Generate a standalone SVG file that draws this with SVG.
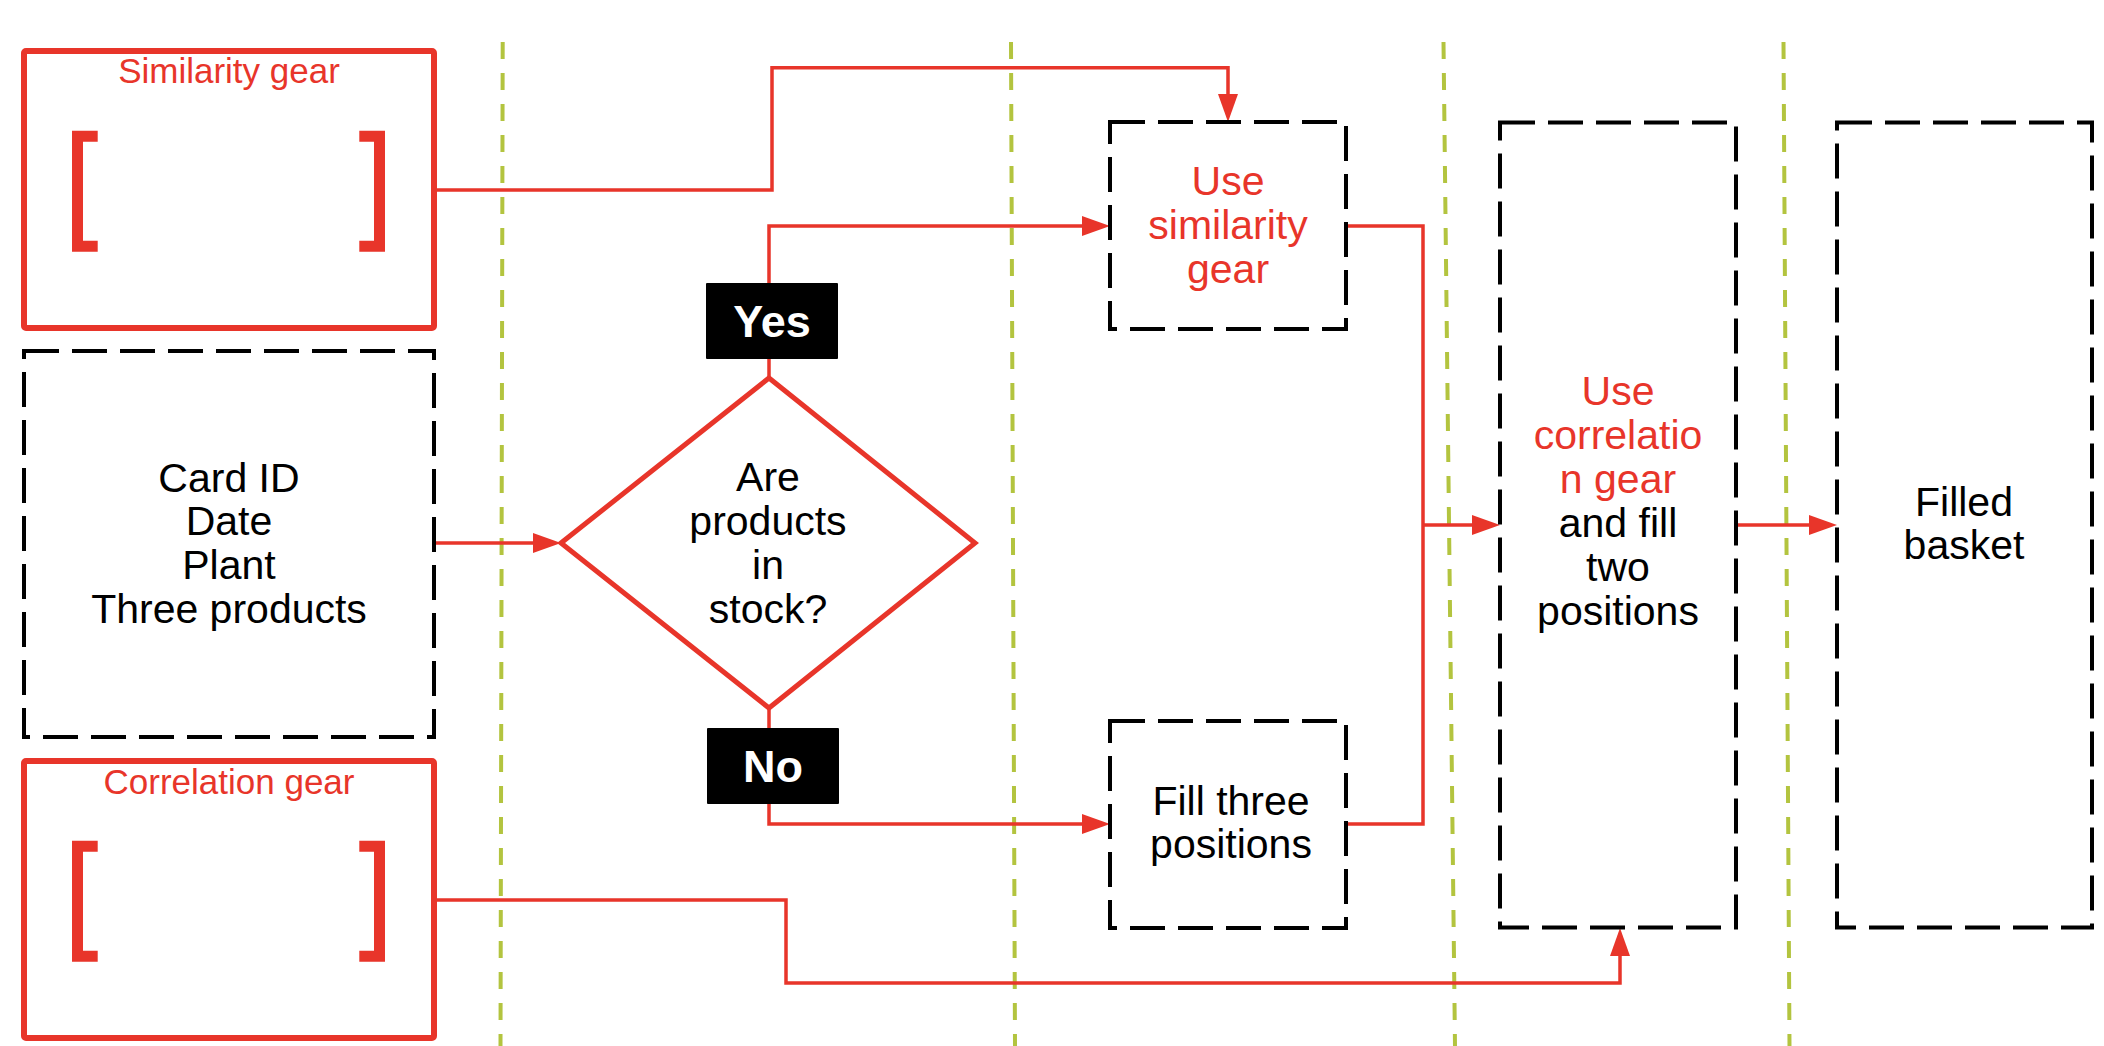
<svg xmlns="http://www.w3.org/2000/svg" width="2104" height="1046" viewBox="0 0 2104 1046">
<style>
.t{font-family:"Liberation Sans",Arial,sans-serif;font-size:41px;text-anchor:middle;fill:#000}
.r{fill:#e8352a}
.title{font-family:"Liberation Sans",Arial,sans-serif;font-size:35px;text-anchor:middle;fill:#e8352a}
.lab{font-family:"Liberation Sans",Arial,sans-serif;font-size:45px;font-weight:bold;text-anchor:middle;fill:#fff}
.gear{fill:#fff;stroke:#e8352a;stroke-width:6}
.br{fill:none;stroke:#e8352a;stroke-width:11;stroke-linejoin:miter;stroke-linecap:butt}
.dbox{fill:#fff;stroke:#000;stroke-width:4;stroke-dasharray:35 13}
.lane{stroke:#b3c43f;stroke-width:4;stroke-dasharray:17 14;fill:none}
.con{fill:none;stroke:#e8352a;stroke-width:3.5;marker-end:url(#ah)}
.con2{fill:none;stroke:#e8352a;stroke-width:3.5}
</style>
<defs>
<marker id="ah" markerUnits="userSpaceOnUse" markerWidth="28" markerHeight="20" refX="2" refY="10" orient="auto">
<path d="M0,0 L28,10 L0,20 z" fill="#e8352a"/>
</marker>
</defs>
<rect width="2104" height="1046" fill="#fff"/>
<g id="lanes">
<line class="lane" x1="502.7" y1="42" x2="500.5" y2="1046"/>
<line class="lane" x1="1011" y1="42" x2="1015" y2="1046"/>
<line class="lane" x1="1443.5" y1="42" x2="1455" y2="1046"/>
<line class="lane" x1="1783.5" y1="42" x2="1789.5" y2="1046"/>
</g>
<g id="connectors">
<path class="con" d="M437,190 H772 V67.7 H1228 V96"/>
<path class="con" d="M769,378 V226 H1084"/>
<path class="con" d="M769,708 V824 H1084"/>
<path class="con" d="M434,543 H535"/>
<path class="con2" d="M1346,226 H1423 V824 H1346"/>
<path class="con" d="M1423,525 H1474"/>
<path class="con" d="M1736,525 H1811"/>
<path class="con" d="M437,900 H786 V983 H1620 V954"/>
</g>
<g id="similarity-gear">
<rect class="gear" x="24" y="51" width="410" height="277" rx="2"/>
<text class="title" x="229" y="83">Similarity gear</text>
<polyline class="br" points="97.7,136.2 77.5,136.2 77.5,246.2 97.7,246.2"/>
<polyline class="br" points="359.3,136.2 379.5,136.2 379.5,246.2 359.3,246.2"/>
</g>
<g id="input">
<rect class="dbox" x="24" y="351" width="410" height="386"/>
<text class="t" x="229" y="491.5">Card ID</text>
<text class="t" x="229" y="535">Date</text>
<text class="t" x="229" y="579">Plant</text>
<text class="t" x="229" y="623">Three products</text>
</g>
<g id="correlation-gear">
<rect class="gear" x="24" y="761" width="410" height="277" rx="2"/>
<text class="title" x="229" y="794">Correlation gear</text>
<polyline class="br" points="97.7,846.2 77.5,846.2 77.5,956.2 97.7,956.2"/>
<polyline class="br" points="359.3,846.2 379.5,846.2 379.5,956.2 359.3,956.2"/>
</g>
<g id="decision">
<polygon points="561,543 769,378 975,543 769,708" fill="#fff" stroke="#e8352a" stroke-width="5" stroke-linejoin="miter"/>
<text class="t" x="768" y="491">Are</text>
<text class="t" x="768" y="535">products</text>
<text class="t" x="768" y="579">in</text>
<text class="t" x="768" y="623">stock?</text>
</g>
<g id="yes-label">
<rect x="706" y="283" width="132" height="76" fill="#000" rx="1"/>
<text class="lab" x="772" y="336.5">Yes</text>
</g>
<g id="no-label">
<rect x="707" y="728" width="132" height="76" fill="#000" rx="1"/>
<text class="lab" x="773" y="781.5">No</text>
</g>
<g id="use-similarity">
<rect class="dbox" x="1110" y="122" width="236" height="207"/>
<text class="t r" x="1228" y="195">Use</text>
<text class="t r" x="1228" y="239">similarity</text>
<text class="t r" x="1228" y="283">gear</text>
</g>
<g id="fill-three">
<rect class="dbox" x="1110" y="721" width="236" height="207"/>
<text class="t" x="1231" y="815">Fill three</text>
<text class="t" x="1231" y="858">positions</text>
</g>
<g id="use-correlation">
<rect class="dbox" x="1500" y="122.5" width="236" height="805"/>
<text class="t r" x="1618" y="405">Use</text>
<text class="t r" x="1618" y="449">correlatio</text>
<text class="t r" x="1618" y="493">n gear</text>
<text class="t" x="1618" y="537">and fill</text>
<text class="t" x="1618" y="581">two</text>
<text class="t" x="1618" y="625">positions</text>
</g>
<g id="filled-basket">
<rect class="dbox" x="1837" y="122.5" width="255" height="805"/>
<text class="t" x="1964" y="516">Filled</text>
<text class="t" x="1964" y="559">basket</text>
</g>
</svg>
